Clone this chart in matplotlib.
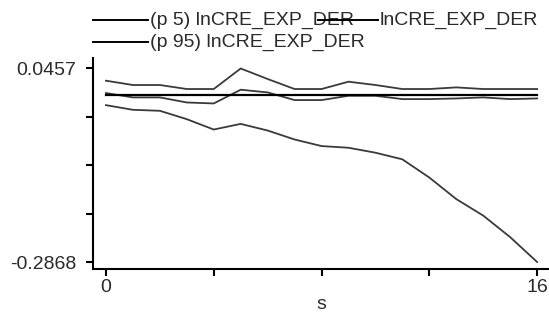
import matplotlib
matplotlib.use("Agg")
import matplotlib.pyplot as plt
from matplotlib.lines import Line2D
import numpy as np

# ---- data ----
steps = list(range(0, 17))
p95 = [0.0247, 0.0173, 0.0173, 0.0104, 0.0104, 0.0457, 0.0276, 0.0104, 0.0104,
       0.0230, 0.0173, 0.0104, 0.0104, 0.0132, 0.0104, 0.0104, 0.0104]
irf = [0.0035, -0.0040, -0.0040, -0.0127, -0.0144, 0.0092, 0.0046, -0.0086, -0.0086,
       -0.0012, -0.0012, -0.0069, -0.0069, -0.0058, -0.0040, -0.0069, -0.0058]
p5 = [-0.0173, -0.0253, -0.0270, -0.0414, -0.0592, -0.0495, -0.0609, -0.0763, -0.0876,
      -0.0905, -0.0990, -0.1104, -0.1417, -0.1787, -0.2071, -0.2441, -0.2868]
zero_line = [0.0] * 17
ymin_lab, ymax_lab = -0.2868, 0.0457
legend_labels = ["(p 5) lnCRE_EXP_DER", "lnCRE_EXP_DER", "(p 95) lnCRE_EXP_DER"]
xlabel = "s"

plt.rcParams['font.family'] = ['Liberation Sans', 'DejaVu Sans']
txtc = '#2a2a2a'
FS = 14

W, H = 549, 313
fig = plt.figure(figsize=(W / 100, H / 100), dpi=100)
ax = fig.add_axes([93 / W, (H - 269) / H, (549 - 93) / W, (269 - 58) / H])

ax.plot(steps, zero_line, color='black', lw=1.6, zorder=3)
ax.plot(steps, p5, color='#3a3a3a', lw=1.3)
ax.plot(steps, irf, color='#3a3a3a', lw=1.3)
ax.plot(steps, p95, color='#3a3a3a', lw=1.3)

ax.set_xlim(-0.48, 16.44)
ax.set_ylim(-0.2988, 0.0637)

for s in ['top', 'right']:
    ax.spines[s].set_visible(False)
for s in ['left', 'bottom']:
    ax.spines[s].set_linewidth(1.5)
    ax.spines[s].set_color('black')

yt = np.linspace(ymin_lab, ymax_lab, 5)
ax.set_yticks(yt)
ax.set_yticklabels([f"{ymin_lab:.4f}", "", "", "", f"{ymax_lab:.4f}"])
ax.set_xticks([0, 4, 8, 12, 16])
ax.set_xticklabels(["0", "", "", "", "16"])
ax.tick_params(axis='both', direction='out', length=5, width=1.5, color='black',
               labelsize=FS, labelcolor=txtc)
ax.tick_params(axis='y', pad=7)
ax.tick_params(axis='x', pad=2)
ax.set_xlabel(xlabel, fontsize=FS, color=txtc, labelpad=0)

# legend drawn in figure pixel coordinates
def fx(px):
    return px / W

def fy(py):
    return (H - py) / H

rows = [20, 42]
fig.add_artist(Line2D([fx(93), fx(148)], [fy(rows[0])] * 2, color='black', lw=1.4))
fig.text(fx(150), fy(rows[0]), legend_labels[0], fontsize=FS, color=txtc, va='center', ha='left')
fig.add_artist(Line2D([fx(318), fx(378)], [fy(rows[0])] * 2, color='black', lw=1.4, zorder=5))
fig.text(fx(380), fy(rows[0]), legend_labels[1], fontsize=FS, color=txtc, va='center', ha='left')
fig.add_artist(Line2D([fx(93), fx(148)], [fy(rows[1])] * 2, color='black', lw=1.4))
fig.text(fx(150), fy(rows[1]), legend_labels[2], fontsize=FS, color=txtc, va='center', ha='left')

fig.savefig("out.png", dpi=100)
